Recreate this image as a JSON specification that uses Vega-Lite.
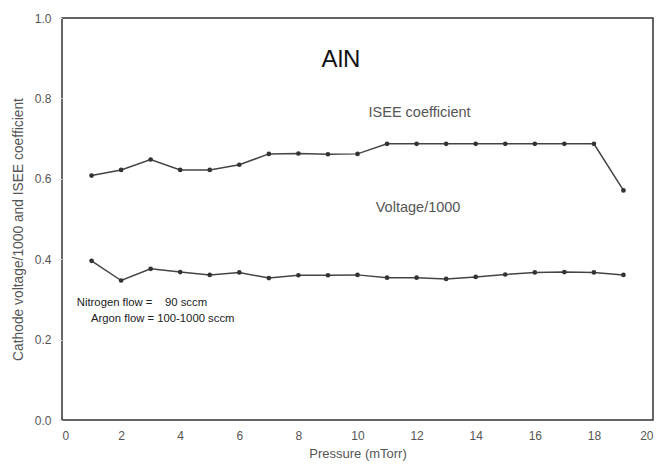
{
  "$schema": "https://vega.github.io/schema/vega-lite/v6.json",
  "width": 591,
  "height": 402,
  "autosize": {"type": "none"},
  "padding": {"left": 62, "top": 18, "right": 8, "bottom": 47},
  "background": "white",
  "config": {
    "view": {"stroke": "#333333", "strokeWidth": 1.5},
    "font": "Liberation Sans, Arial"
  },
  "datasets": {
    "series": [
      {"pressure": 1, "value": 0.608, "series": "ISEE"},
      {"pressure": 2, "value": 0.622, "series": "ISEE"},
      {"pressure": 3, "value": 0.648, "series": "ISEE"},
      {"pressure": 4, "value": 0.622, "series": "ISEE"},
      {"pressure": 5, "value": 0.622, "series": "ISEE"},
      {"pressure": 6, "value": 0.635, "series": "ISEE"},
      {"pressure": 7, "value": 0.662, "series": "ISEE"},
      {"pressure": 8, "value": 0.663, "series": "ISEE"},
      {"pressure": 9, "value": 0.661, "series": "ISEE"},
      {"pressure": 10, "value": 0.662, "series": "ISEE"},
      {"pressure": 11, "value": 0.687, "series": "ISEE"},
      {"pressure": 12, "value": 0.687, "series": "ISEE"},
      {"pressure": 13, "value": 0.687, "series": "ISEE"},
      {"pressure": 14, "value": 0.687, "series": "ISEE"},
      {"pressure": 15, "value": 0.687, "series": "ISEE"},
      {"pressure": 16, "value": 0.687, "series": "ISEE"},
      {"pressure": 17, "value": 0.687, "series": "ISEE"},
      {"pressure": 18, "value": 0.687, "series": "ISEE"},
      {"pressure": 19, "value": 0.571, "series": "ISEE"},
      {"pressure": 1, "value": 0.396, "series": "Voltage"},
      {"pressure": 2, "value": 0.347, "series": "Voltage"},
      {"pressure": 3, "value": 0.376, "series": "Voltage"},
      {"pressure": 4, "value": 0.368, "series": "Voltage"},
      {"pressure": 5, "value": 0.361, "series": "Voltage"},
      {"pressure": 6, "value": 0.367, "series": "Voltage"},
      {"pressure": 7, "value": 0.353, "series": "Voltage"},
      {"pressure": 8, "value": 0.360, "series": "Voltage"},
      {"pressure": 9, "value": 0.360, "series": "Voltage"},
      {"pressure": 10, "value": 0.361, "series": "Voltage"},
      {"pressure": 11, "value": 0.354, "series": "Voltage"},
      {"pressure": 12, "value": 0.354, "series": "Voltage"},
      {"pressure": 13, "value": 0.351, "series": "Voltage"},
      {"pressure": 14, "value": 0.356, "series": "Voltage"},
      {"pressure": 15, "value": 0.362, "series": "Voltage"},
      {"pressure": 16, "value": 0.367, "series": "Voltage"},
      {"pressure": 17, "value": 0.368, "series": "Voltage"},
      {"pressure": 18, "value": 0.367, "series": "Voltage"},
      {"pressure": 19, "value": 0.361, "series": "Voltage"}
    ],
    "labels": [
      {"x": 9.44, "y": 0.896, "text": "AlN", "kind": "title"},
      {"x": 12.1, "y": 0.764, "text": "ISEE coefficient", "kind": "series"},
      {"x": 12.05, "y": 0.527, "text": "Voltage/1000", "kind": "series"}
    ],
    "notes": [
      {"x": 0.5, "y": 0.291, "text": "Nitrogen flow =\u00a0\u00a0\u00a0 90 sccm"},
      {"x": 0.98, "y": 0.251, "text": "Argon flow = 100-1000 sccm"}
    ]
  },
  "layer": [
    {
      "data": {"name": "series"},
      "mark": {"type": "line", "color": "#444444", "strokeWidth": 1.5, "point": {"filled": true, "color": "#333333", "size": 22}},
      "encoding": {
        "x": {
          "field": "pressure", "type": "quantitative",
          "scale": {"domain": [0, 20], "nice": false},
          "axis": {
            "title": "Pressure (mTorr)", "values": [0, 2, 4, 6, 8, 10, 12, 14, 16, 18, 20],
            "grid": false, "ticks": false, "domain": false,
            "labelColor": "#555555", "labelFontSize": 12, "labelPadding": 10,
            "titleColor": "#555555", "titleFontSize": 13, "titleFontWeight": "normal", "titlePadding": 6
          }
        },
        "y": {
          "field": "value", "type": "quantitative",
          "scale": {"domain": [0, 1], "nice": false},
          "axis": {
            "title": "Cathode voltage/1000 and ISEE coefficient", "values": [0, 0.2, 0.4, 0.6, 0.8, 1.0],
            "format": ".1f", "grid": false, "ticks": true, "tickSize": 3, "tickColor": "#dddddd", "domain": false,
            "labelColor": "#555555", "labelFontSize": 12, "labelPadding": 8,
            "titleColor": "#555555", "titleFontSize": 13.8, "titleFontWeight": "normal", "titlePadding": 9,
            "titleY": 211
          }
        },
        "detail": {"field": "series"}
      }
    },
    {
      "data": {"name": "labels"},
      "mark": {"type": "text", "align": "center", "baseline": "middle"},
      "encoding": {
        "x": {"field": "x", "type": "quantitative"},
        "y": {"field": "y", "type": "quantitative"},
        "text": {"field": "text"},
        "size": {"condition": {"test": "datum.kind === 'title'", "value": 24}, "value": 14.5},
        "color": {"condition": {"test": "datum.kind === 'title'", "value": "#111111"}, "value": "#555555"}
      }
    },
    {
      "data": {"name": "notes"},
      "mark": {"type": "text", "align": "left", "baseline": "middle", "fontSize": 11.3, "color": "#222222"},
      "encoding": {
        "x": {"field": "x", "type": "quantitative"},
        "y": {"field": "y", "type": "quantitative"},
        "text": {"field": "text"}
      }
    }
  ]
}
